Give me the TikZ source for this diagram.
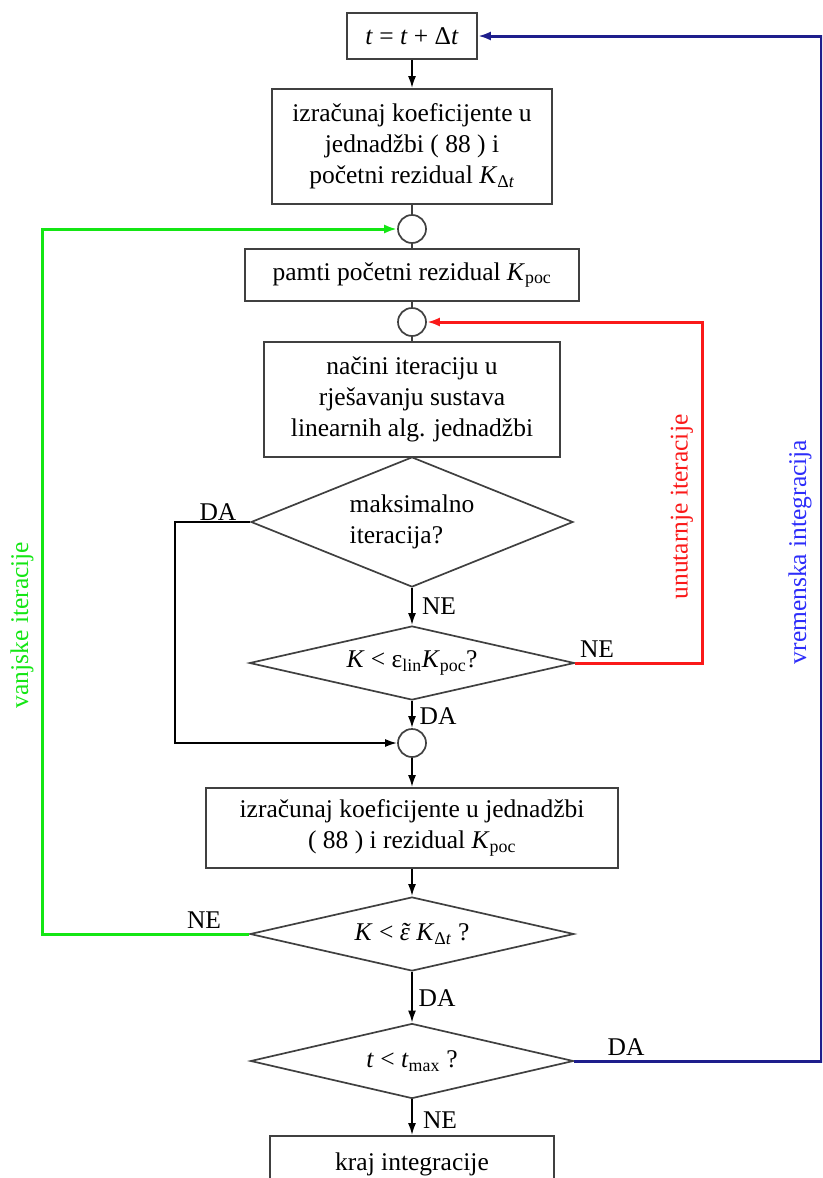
\documentclass[tikz,border=0pt]{standalone}
\usepackage{fontspec}
\setmainfont{Liberation Serif}
\usetikzlibrary{shapes.geometric,arrows.meta}

\newcommand{\sub}[1]{\textsubscript{#1}}
\newcommand{\tildeeps}{\textit{\ooalign{ε\cr\hidewidth˜\hidewidth\cr}}}
\definecolor{outergreen}{RGB}{20,230,20}
\definecolor{innerred}{RGB}{250,25,25}
\definecolor{timeblue}{RGB}{30,30,140}
\definecolor{labelblue}{RGB}{45,45,250}

\begin{document}
\begin{tikzpicture}[x=1pt, y=-1pt,
		every node/.style={font=\fontsize{25.5}{31}\selectfont},
		box/.style={draw=black!75, line width=1.7pt, rectangle, align=center, inner sep=0pt},
		decision/.style={draw=black!75, line width=1.7pt, diamond, aspect=2, align=left, inner sep=0pt},
		junction/.style={draw=black!75, line width=1.7pt, circle, minimum size=28pt, inner sep=0pt},
		flow/.style={line width=2pt, -{Latex[length=12pt,width=8pt]}},
		loop/.style={line width=3pt, -{Latex[length=13pt,width=9pt]}}]
			\clip (0,0) rectangle (822,1178);

			\node[box, minimum width=130, minimum height=46] (tstep) at (412,36) {\textit{t} = \textit{t} + Δ\textit{t}};
			\node[box, minimum width=280, minimum height=115] (coefstart) at (412,146.5) {izračunaj koeficijente u\\ jednadžbi ( 88 ) i\\ početni rezidual \textit{K}\sub{Δ\textit{t}}};
			\node[junction] (join1) at (412,229) {};
			\node[box, minimum width=334, minimum height=52] (keepres) at (412,275) {pamti početni rezidual \textit{K}\sub{poc}};
			\node[junction] (join2) at (412,322) {};
			\node[box, minimum width=296, minimum height=115] (linsolve) at (412,399.5) {načini iteraciju u\\ rješavanju sustava\\ linearnih alg. jednadžbi};
			\node[decision, minimum width=322, minimum height=130] (maxit) at (412,522) {maksimalno\\ iteracija?\hspace*{20pt}};
			\node[decision, aspect=4, minimum width=325, minimum height=74] (inconv) at (412,663) {\textit{K} < ε\sub{lin}\textit{K}\sub{poc}?};
			\node[junction] (join3) at (412,743) {};
			\node[box, minimum width=412, minimum height=80] (coefnext) at (412,828) {izračunaj koeficijente u jednadžbi\\ ( 88 ) i rezidual \textit{K}\sub{poc}};
			\node[decision, aspect=4, minimum width=324, minimum height=74] (outconv) at (412,934) {\textit{K} < \tildeeps{} \textit{K}\sub{Δ\textit{t}} ?};
			\node[decision, aspect=4, minimum width=323, minimum height=75] (tmax) at (412,1061) {\textit{t} < \textit{t}\sub{max} ?};
			\node[box, minimum width=284, minimum height=56] (finish) at (412,1164) {kraj integracije};

			\coordinate (daturn) at (175,522);
			\coordinate (redturn) at (702,663);
			\coordinate (greenturn) at (42,934);
			\coordinate (blueturn) at (821,1061);

			\draw[flow] (tstep) -- (coefstart);
			\draw[line width=1.7pt, color=black!75] (coefstart) -- (join1);
			\draw[line width=1.7pt, color=black!75] (join1) -- (keepres);
			\draw[line width=1.7pt, color=black!75] (keepres) -- (join2);
			\draw[line width=1.7pt, color=black!75] (join2) -- (linsolve);
			\draw[flow] (maxit) -- (inconv);
			\draw[flow] (inconv) -- (join3);
			\draw[flow] (maxit.west) -- (daturn) |- (join3.west);
			\draw[flow] (join3) -- (coefnext);
			\draw[flow] (coefnext) -- (outconv);
			\draw[flow] (outconv) -- (tmax);
			\draw[flow] (tmax) -- (finish);
			\draw[loop, color=innerred] (inconv.east) -- (redturn) |- (join2.east);
			\draw[loop, color=outergreen] (outconv.west) -- (greenturn) |- (join1.west);
			\draw[loop, color=timeblue] (tmax.east) -- (blueturn) |- (tstep.east);

			\node (maxda) at (218,512) {DA};
			\node (maxne) at (439,606) {NE};
			\node (inda) at (438,716) {DA};
			\node (inne) at (597,649) {NE};
			\node (outne) at (204,920) {NE};
			\node (outda) at (437,998) {DA};
			\node (tne) at (440,1120) {NE};
			\node (tda) at (626,1047) {DA};

			\node[rotate=90, color=innerred] (innerlbl) at (682,507) {unutarnje iteracije};
			\node[rotate=90, color=labelblue] (timelbl) at (800,552) {vremenska integracija};
			\node[rotate=90, color=outergreen] (outerlbl) at (22,625) {vanjske iteracije};
		\end{tikzpicture}
\end{document}
